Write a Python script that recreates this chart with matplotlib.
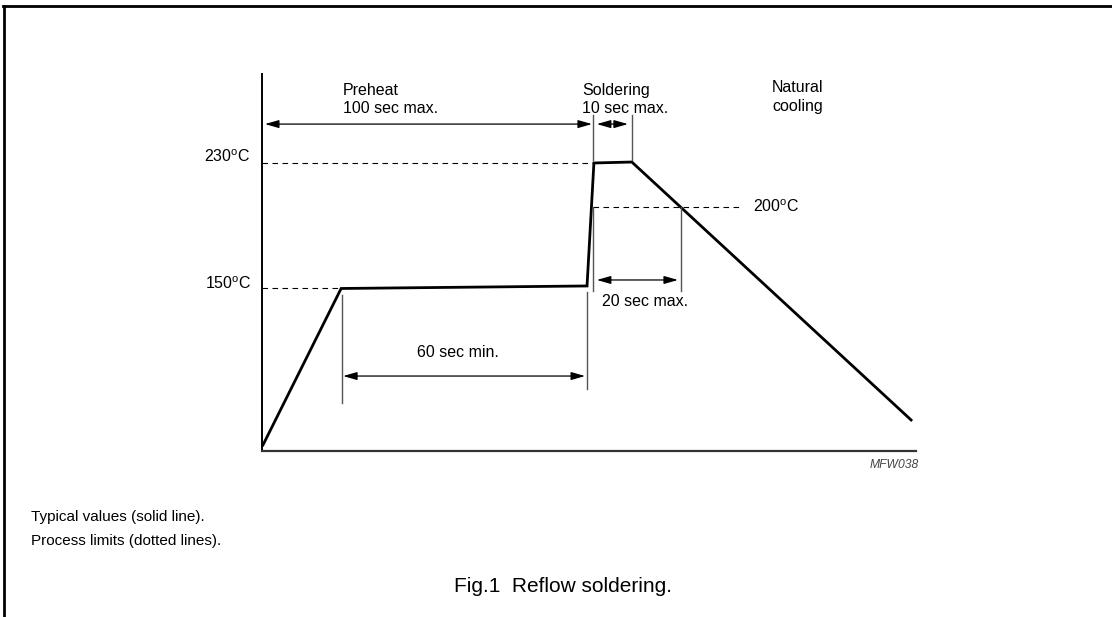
import matplotlib
matplotlib.use("Agg")
import matplotlib.pyplot as plt
from matplotlib.lines import Line2D

plt.rcParams['font.family'] = ['Liberation Sans', 'DejaVu Sans']
plt.rcParams['mathtext.fontset'] = 'custom'
plt.rcParams['mathtext.rm'] = 'Liberation Sans'

# reflow profile (time in s, temperature in degC)
profile_t = [0.3, 24.2, 99.4, 101.5, 113.1, 198.5]
profile_T = [50.6, 150.0, 151.6, 229.7, 230.3, 66.5]

# dashed process limits: (temperature, t_start, t_end)
limit_T = [230, 150, 201.7]
limit_t0 = [0.0, 0.0, 101.2]
limit_t1 = [101.2, 23.9, 146.2]
limit_labels = ['230$^{\\rm o}$C', '150$^{\\rm o}$C', '200$^{\\rm o}$C']

# thin vertical marker lines: (t, T_low, T_high)
mark_t = [101.2, 113.1, 101.2, 128.1, 24.5, 99.4]
mark_lo = [231.6, 231.6, 148.4, 148.4, 77.3, 86.2]
mark_hi = [260.2, 260.2, 201.7, 201.7, 145.9, 147.8]

# dimension arrows: (T level, t_start, t_end)
arrow_T = [254.4, 254.4, 155.4, 94.4]
arrow_t0 = [0.9, 102.4, 102.4, 24.8]
arrow_t1 = [100.9, 111.9, 127.2, 98.8]

W, H = 1112, 617
fig = plt.figure(figsize=(W / 100, H / 100), dpi=100)
ax = fig.add_axes([262 / W, 1 - 451 / H, 654 / W, 377 / H])
ax.set_xlim(0, 200)
ax.set_ylim(46.8, 286.2)
for s in ['top', 'right']:
    ax.spines[s].set_visible(False)
ax.spines['left'].set_linewidth(1.4)
ax.spines['bottom'].set_linewidth(1.6)
ax.spines['bottom'].set_color('#333333')
ax.set_xticks([])
ax.set_yticks([])

# profile
ax.plot(profile_t, profile_T, color='black', lw=2.0, solid_joinstyle='miter', clip_on=False)

# dashed limits + labels
for T, t0, t1 in zip(limit_T, limit_t0, limit_t1):
    ax.plot([t0, t1], [T, T], color='black', lw=0.8, dashes=(5, 4))
ytr = ax.get_yaxis_transform()
ax.text(-0.018, 230 + 3.5, limit_labels[0], transform=ytr, ha='right', va='center', fontsize=11.5)
ax.text(-0.016, 150 + 3, limit_labels[1], transform=ytr, ha='right', va='center', fontsize=11.5)
ax.text(146.2 + 4, 201.7, limit_labels[2], ha='left', va='center', fontsize=11.5)

# vertical markers
for t, lo, hi in zip(mark_t, mark_lo, mark_hi):
    ax.plot([t, t], [lo, hi], color='#555555', lw=1.0)

# arrows
for T, t0, t1 in zip(arrow_T, arrow_t0, arrow_t1):
    ax.annotate('', xy=(t1, T), xytext=(t0, T),
                arrowprops=dict(arrowstyle='<|-|>,head_length=0.7,head_width=0.2',
                                color='black', lw=0.9, mutation_scale=12,
                                shrinkA=0, shrinkB=0))

# annotations
ax.text(24.8, 273.0, 'Preheat', ha='left', va='baseline', fontsize=11.5)
ax.text(24.8, 261.5, '100 sec max.', ha='left', va='baseline', fontsize=11.5)
ax.text(98.0, 273.0, 'Soldering', ha='left', va='baseline', fontsize=11.5)
ax.text(98.0, 261.5, '10 sec max.', ha='left', va='baseline', fontsize=11.5)
ax.text(156.0, 274.5, 'Natural', ha='left', va='baseline', fontsize=11.5)
ax.text(156.0, 263.0, 'cooling', ha='left', va='baseline', fontsize=11.5)
ax.text(60.0, 109.5, '60 sec min.', ha='center', va='center', fontsize=11.5)
ax.text(117.0, 141.5, '20 sec max.', ha='center', va='center', fontsize=11.5)

fig.text(919 / W, 1 - 465 / H, 'MFW038', ha='right', va='center', fontsize=8.7,
         style='italic', color='#444444')
fig.text(31 / W, 1 - 517 / H, 'Typical values (solid line).', ha='left', va='center', fontsize=11)
fig.text(31 / W, 1 - 541 / H, 'Process limits (dotted lines).', ha='left', va='center', fontsize=11)
fig.text(563 / W, 1 - 586 / H, 'Fig.1  Reflow soldering.', ha='center', va='center', fontsize=15)

# page frame (top and left rule)
fig.add_artist(Line2D([3 / W, 1.0], [1 - 5.5 / H, 1 - 5.5 / H], color='black', lw=2.0,
                      transform=fig.transFigure))
fig.add_artist(Line2D([4 / W, 4 / W], [0.0, 1 - 5.5 / H], color='black', lw=2.0,
                      transform=fig.transFigure))

fig.savefig('out.png', dpi=100)
